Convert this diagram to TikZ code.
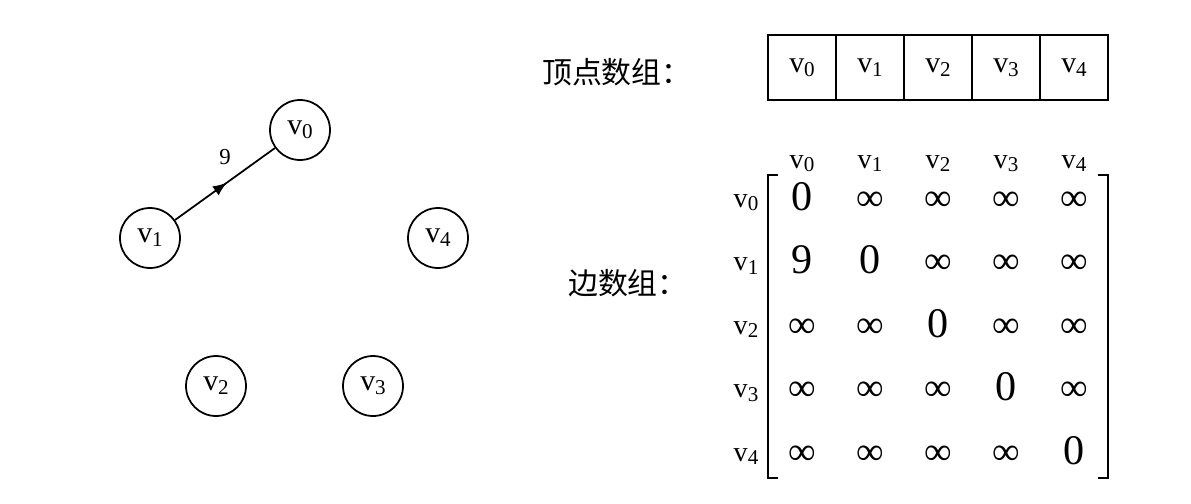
\documentclass[tikz,border=0pt]{standalone}
\usepackage{fontspec}
\setmainfont{Liberation Serif}
\newfontfamily\cjk{Noto Sans CJK SC}
\usetikzlibrary{arrows.meta,positioning,decorations.markings}

% vertex name with a lowered subscript
\newcommand{\vname}[1]{v\raisebox{-0.3ex}{\fontsize{12}{12}\selectfont #1}}

\begin{document}
\begin{tikzpicture}[
  vertex/.style={circle, draw, line width=1pt, minimum size=1.2cm, inner sep=0pt, font=\fontsize{17}{19}\selectfont},
  edge/.style={line width=1pt, postaction={decorate}, decoration={markings, mark=at position 0.52 with {\arrow{Latex[length=2.8mm,width=2.2mm]}}}},
  cellbox/.style={rectangle, draw, line width=1pt, minimum width=1.36cm, minimum height=1.3cm, font=\fontsize{17}{19}\selectfont},
  lbl/.style={anchor=base, font=\fontsize{16}{18}\selectfont},
  wlbl/.style={font=\fontsize{13}{15}\selectfont},
  title/.style={anchor=west, font=\cjk\fontsize{17}{19}\selectfont},
  bignum/.style={anchor=base, font=\fontsize{24}{26}\selectfont},
  infnum/.style={anchor=base, font=\fontsize{22}{24}\selectfont},
  bracket/.style={line width=1.1pt}
]
\useasboundingbox (0,0) rectangle (23.82,10.06);

% Graph
\foreach \n/\x/\y in {0/6.0/7.46, 1/3.0/5.30, 2/4.32/2.34, 3/7.46/2.34, 4/8.76/5.30} {
  \node[vertex] (v\n) at (\x,\y) {\vname{\n}};
}
\draw[edge] (v1) -- (v0) node[midway, above=0.25cm, wlbl] (w10) {9};

% Vertex array
\node[title] (vtitle) at (10.72,8.62) {顶点数组：};
\foreach \i in {0,...,4} {
  \node[cellbox] (cell\i) at ({16.04+1.36*\i},8.71) {\vname{\i}};
}

% Edge array
\node[title] (etitle) at (11.24,4.4) {边数组：};
\foreach \i in {0,...,4} {
  \node[lbl] (col\i) at ({16.04+1.36*\i},6.70) {\vname{\i}};
  \node[lbl] (row\i) at (14.92,{5.92-1.27*\i}) {\vname{\i}};
}
\foreach \r in {0,...,4} {
  \foreach \c in {0,...,4} {
    \def\sty{infnum}\def\val{∞}
    \ifnum\r=\c \def\sty{bignum}\def\val{0}\fi
    \ifnum\r=1 \ifnum\c=0 \def\sty{bignum}\def\val{9}\fi\fi
    \node[\sty] (e\r\c) at ({16.04+1.36*\c},{5.86-1.27*\r}) {\val};
  }
}
\draw[bracket] (15.56,6.56) -- (15.36,6.56) -- (15.36,0.5) -- (15.56,0.5);
\draw[bracket] (21.96,6.56) -- (22.16,6.56) -- (22.16,0.5) -- (21.96,0.5);

\end{tikzpicture}
\end{document}
